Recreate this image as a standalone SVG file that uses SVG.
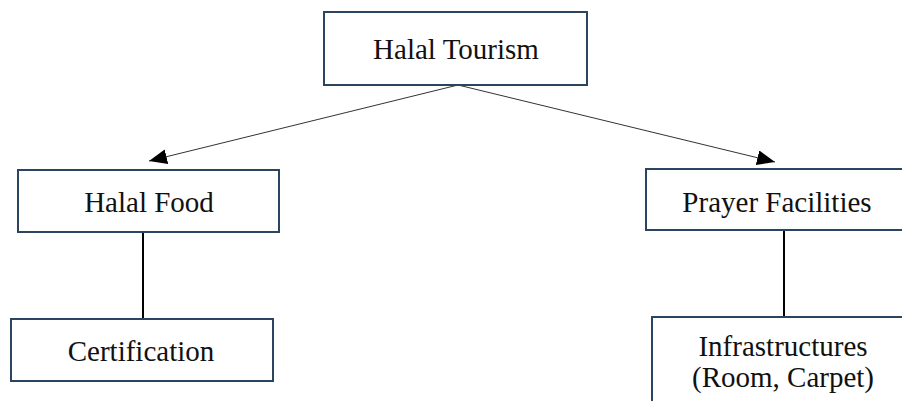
<svg xmlns="http://www.w3.org/2000/svg" width="902" height="401" viewBox="0 0 902 401">
  <style>
    .box { fill: #ffffff; stroke: #2b4461; stroke-width: 2; }
    .label { font-family: "Liberation Serif", "Times New Roman", serif; font-size: 29px; fill: #111111; text-anchor: middle; }
    .arrow { stroke: #333333; stroke-width: 1; fill: none; }
    .link { stroke: #000000; stroke-width: 2; fill: none; }
  </style>
  <defs>
    <marker id="head" markerUnits="userSpaceOnUse" markerWidth="19" markerHeight="15" refX="18" refY="7.5" orient="auto">
      <path d="M0,0 L18,7.5 L0,15 Z" fill="#000000"/>
    </marker>
  </defs>

  <g id="connectors">
    <line class="arrow" x1="458" y1="85" x2="149" y2="161" marker-end="url(#head)"/>
    <line class="arrow" x1="458" y1="85" x2="775" y2="162" marker-end="url(#head)"/>
    <line class="link" x1="143" y1="232" x2="143" y2="319"/>
    <line class="link" x1="784" y1="230" x2="784" y2="317"/>
  </g>

  <g id="halal-tourism">
    <rect class="box" x="324" y="12" width="263" height="73"/>
    <text class="label" x="456" y="59">Halal Tourism</text>
  </g>

  <g id="halal-food">
    <rect class="box" x="18" y="170" width="261" height="62"/>
    <text class="label" x="149" y="212">Halal Food</text>
  </g>

  <g id="prayer-facilities">
    <rect class="box" x="646" y="169" width="264" height="61"/>
    <text class="label" x="777" y="212">Prayer Facilities</text>
  </g>

  <g id="certification">
    <rect class="box" x="11" y="319" width="262" height="62"/>
    <text class="label" x="141" y="361">Certification</text>
  </g>

  <g id="infrastructures">
    <rect class="box" x="652" y="317" width="262" height="100"/>
    <text class="label" x="783" y="356">Infrastructures</text>
    <text class="label" x="783" y="387">(Room, Carpet)</text>
  </g>
</svg>
